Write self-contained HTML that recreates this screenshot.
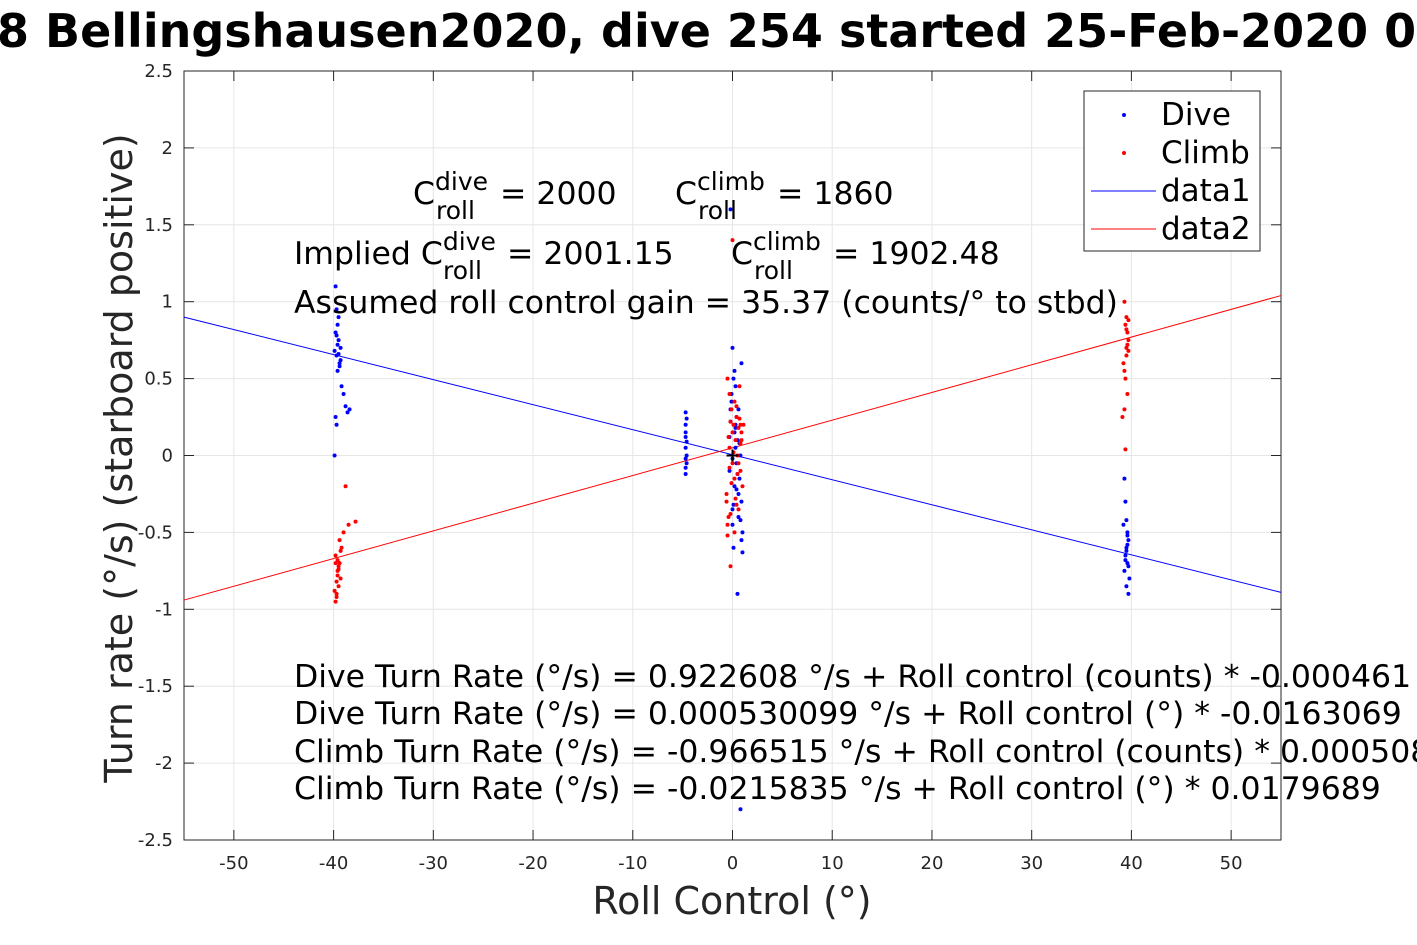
<!DOCTYPE html>
<html><head><meta charset="utf-8"><style>
body{margin:0;background:#fff}
svg{display:block;font-family:"DejaVu Sans","Liberation Sans",sans-serif}
</style></head><body>
<svg id="chart" width="1417" height="945" viewBox="0 0 1417 945">
<rect width="1417" height="945" fill="#fff"/>
<text x="-3" y="47" font-size="46" font-weight="bold">8 Bellingshausen2020, dive 254 started 25-Feb-2020 02:38</text>
<g id="grid"></g>
<rect x="184" y="71" width="1097" height="769" fill="none" stroke="#262626" stroke-width="1"/>
<g id="ticks" font-size="18" fill="#262626"></g>
<g id="marks"></g>
<text transform="translate(132,458) rotate(-90)" text-anchor="middle" font-size="38" fill="#262626">Turn rate (°/s) (starboard positive)</text>
<text x="732" y="914" text-anchor="middle" font-size="38" fill="#262626">Roll Control (°)</text>
<g font-size="31.5" fill="#000">
<text x="413" y="204">C<tspan dy="-14" font-size="25">dive</tspan><tspan x="436" dy="29" font-size="25">roll</tspan><tspan x="500" dy="-15">= 2000</tspan></text>
<text x="675" y="204">C<tspan dy="-14" font-size="25">climb</tspan><tspan x="698" dy="29" font-size="25">roll</tspan><tspan x="777" dy="-15">= 1860</tspan></text>
<text x="294" y="264">Implied C<tspan dy="-14" font-size="25">dive</tspan><tspan x="443" dy="29" font-size="25">roll</tspan><tspan x="507" dy="-15">= 2001.15</tspan></text>
<text x="731" y="264">C<tspan dy="-14" font-size="25">climb</tspan><tspan x="754" dy="29" font-size="25">roll</tspan><tspan x="833" dy="-15">= 1902.48</tspan></text>
<text x="294" y="313">Assumed roll control gain = 35.37 (counts/° to stbd)</text>
<text x="294" y="687">Dive Turn Rate (°/s) = 0.922608 °/s + Roll control (counts) * -0.000461</text>
<text x="294" y="724">Dive Turn Rate (°/s) = 0.000530099 °/s + Roll control (°) * -0.0163069</text>
<text x="294" y="762">Climb Turn Rate (°/s) = -0.966515 °/s + Roll control (counts) * 0.000508</text>
<text x="294" y="799">Climb Turn Rate (°/s) = -0.0215835 °/s + Roll control (°) * 0.0179689</text>
</g>
<g>
<rect x="1084" y="91" width="176" height="160" fill="#fff" stroke="#262626"/>
<circle cx="1124" cy="115" r="2" fill="#00f"/><text x="1161" y="125" font-size="31">Dive</text>
<circle cx="1124" cy="153" r="2" fill="#f00"/><text x="1161" y="163" font-size="31">Climb</text>
<line x1="1091" y1="191" x2="1156" y2="191" stroke="#00f"/><text x="1161" y="201" font-size="31">data1</text>
<line x1="1091" y1="229" x2="1156" y2="229" stroke="#f00"/><text x="1161" y="239" font-size="31">data2</text>
</g>
</svg>
<script>
const xTicks=[-50,-40,-30,-20,-10,0,10,20,30,40,50];
const yTicks=[-2.5,-2,-1.5,-1,-0.5,0,0.5,1,1.5,2,2.5];
const diveX=[-39.8,-39.7,-39.6,-39.8,-39.5,-39.3,-39.7,-39.4,-39.6,-39.2,-39.0,-38.8,-38.6,-38.4,-39.8,-39.7,-39.9,-39.5,-39.3,-39.6,-39.9,-39.4,-39.7,-39.5,
-4.7,-4.7,-4.7,-4.7,-4.7,-4.7,-4.7,-4.7,-4.6,-4.6,-4.6,-4.6,
0,0.1,-0.2,0.3,0.5,0.8,-0.3,0.2,0.9,0.6,1.0,0.1,-0.1,0.4,0.7,0.0,0.3,1.0,-0.2,0.8,0.5,0.9,
-0.1,0.2,0.4,0.6,0.0,0.3,-0.2,0.5,0.7,0.1,0.9,0.2,-0.3,0.4,0.6,0.8,0.0,0.3,
39.3,39.4,39.5,39.6,39.7,39.5,39.4,39.6,39.3,39.8,39.5,39.7,39.2,39.6,39.5,39.4,39.7,39.6];
const diveY=[1.1,0.95,0.85,0.8,0.75,0.7,0.65,0.6,0.55,0.45,0.4,0.32,0.28,0.3,0.25,0.2,0.0,0.9,0.62,0.72,0.68,0.58,0.78,0.66,
0.28,0.2,0.12,0.05,-0.02,-0.08,-0.12,0.15,0.24,0.09,0.0,-0.05,
0.7,0.5,0.3,0.2,0.1,0.0,-0.1,-0.2,-0.3,-0.4,-0.5,-0.6,0.4,0.25,-0.15,-0.35,0.05,-0.63,1.6,-2.3,-0.9,0.6,
0.35,0.15,-0.05,-0.25,-0.45,0.45,0.22,-0.12,0.08,-0.32,-0.55,0.55,0.12,-0.22,0.3,-0.42,-0.02,0.18,
-0.15,-0.3,-0.42,-0.5,-0.55,-0.6,-0.65,-0.7,-0.75,-0.8,-0.85,-0.9,-0.45,-0.58,-0.62,-0.68,-0.72,-0.52];
const climbX=[-39.8,-39.7,-39.5,-39.3,-39.6,-39.4,-39.8,-39.2,-39.0,-38.5,-37.8,-39.7,-39.6,-39.5,-39.9,-38.8,-39.4,-39.6,-39.7,-39.5,-39.8,-39.3,
-0.5,-0.3,-0.1,0.1,0.3,0.5,0.8,1.0,-0.6,-0.4,0.2,0.6,0.9,-0.2,0.0,0.4,-0.5,0.7,-0.3,1.1,
-0.4,-0.2,0.0,0.2,0.4,0.6,0.8,-0.6,-0.3,0.1,0.3,0.5,0.7,0.9,-0.1,0.2,-0.5,0.4,0.6,0.0,-0.2,0.8,
39.3,39.5,39.4,39.6,39.7,39.5,39.2,39.4,39.6,39.3,39.5,39.7,39.1,39.4,39.6,39.5,39.3,39.7];
const climbY=[-0.95,-0.9,-0.85,-0.8,-0.75,-0.7,-0.65,-0.6,-0.5,-0.45,-0.43,-0.92,-0.78,-0.72,-0.88,-0.2,-0.55,-0.68,-0.82,-0.74,-0.7,-0.62,
0.5,0.4,0.3,0.2,0.1,0.0,-0.1,-0.2,-0.3,-0.4,-0.5,-0.35,0.15,-0.72,1.4,0.25,-0.52,0.45,0.05,0.2,
0.12,0.22,-0.05,-0.15,0.32,0.18,0.08,-0.25,-0.08,0.02,-0.28,-0.12,0.24,0.1,-0.18,0.35,-0.45,-0.32,-0.05,0.15,-0.38,0.2,
1.0,0.9,0.85,0.8,0.75,0.7,0.6,0.5,0.4,0.3,0.65,0.88,0.25,0.04,0.72,0.82,0.55,0.68];
const diveFit=[0.9,-0.89];
const climbFit=[-0.94,1.04];
const xDomain=[-55,55];
const L=184,R=1281,T=71,B=840;
const sx=v=>L+(v-xDomain[0])/(xDomain[1]-xDomain[0])*(R-L);
const sy=v=>B-(v+2.5)/5*(B-T);
const NS='http://www.w3.org/2000/svg';
function mk(tag,attrs,parent){const e=document.createElementNS(NS,tag);for(const k in attrs)e.setAttribute(k,attrs[k]);parent.appendChild(e);return e;}
const grid=document.getElementById('grid'),ticks=document.getElementById('ticks'),marks=document.getElementById('marks');
xTicks.forEach(t=>{const x=sx(t);
const g=mk('line',{x1:x,x2:x,y1:T,y2:B,stroke:'#e6e6e6'},grid);


mk('line',{x1:x,x2:x,y1:B,y2:B-10,stroke:'#262626'},ticks);
mk('line',{x1:x,x2:x,y1:T,y2:T+10,stroke:'#262626'},ticks);
const tx=mk('text',{x:x,y:B+29,'text-anchor':'middle'},ticks);tx.textContent=t;

});
yTicks.forEach(t=>{const y=sy(t);
const g=mk('line',{x1:L,x2:R,y1:y,y2:y,stroke:'#e6e6e6'},grid);


mk('line',{x1:L,x2:L+10,y1:y,y2:y,stroke:'#262626'},ticks);
mk('line',{x1:R,x2:R-10,y1:y,y2:y,stroke:'#262626'},ticks);
const tx=mk('text',{x:L-11,y:y+6,'text-anchor':'end'},ticks);tx.textContent=t;

});
const l1=mk('line',{x1:sx(xDomain[0]),y1:sy(diveFit[0]),x2:sx(xDomain[1]),y2:sy(diveFit[1]),stroke:'#00f'},marks);


const l2=mk('line',{x1:sx(xDomain[0]),y1:sy(climbFit[0]),x2:sx(xDomain[1]),y2:sy(climbFit[1]),stroke:'#f00'},marks);


diveX.forEach((v,i)=>{const c=mk('circle',{cx:sx(v),cy:sy(diveY[i]),r:2,fill:'#00f'},marks);

});
climbX.forEach((v,i)=>{const c=mk('circle',{cx:sx(v),cy:sy(climbY[i]),r:2,fill:'#f00'},marks);

});
const cx=sx(0),cy=sy(0);
mk('line',{x1:cx-6,x2:cx+6,y1:cy,y2:cy,stroke:'#000','stroke-width':2},marks);
mk('line',{x1:cx,x2:cx,y1:cy-6,y2:cy+6,stroke:'#000','stroke-width':2},marks);
</script>
</body></html>
